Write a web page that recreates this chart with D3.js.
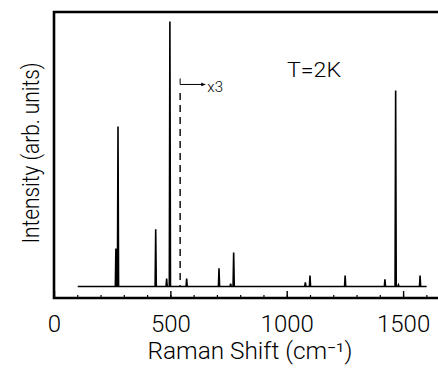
<!DOCTYPE html>
<html>
<head>
<meta charset="utf-8">
<script src="https://cdn.jsdelivr.net/npm/d3@7"></script>
<style>
  body { margin: 0; background: #fff; }
  text { font-family: Roboto, "Open Sans", "DejaVu Sans", sans-serif; font-weight: 300; fill: #000; }
</style>
</head>
<body>
<div id="chart"></div>
<script>
// Raman peaks (position in cm-1, height in arb. units above baseline)
const peakPos    = [266, 275, 437, 484, 498, 570, 709, 759, 772, 1080, 1100, 1251, 1422, 1468, 1480, 1573];
const peakHeight = [13.8, 58.3, 20.8, 2.9, 96.5, 2.9, 6.6, 1.0, 12.4, 1.5, 4.0, 4.0, 2.6, 71.4, 0.6, 4.0];
const specStart = 102, specEnd = 1601;
const majorTicks = [0, 500, 1000, 1500];
const minorTicks = d3.range(100, 1700, 100);
const scaleMark = 542;  // position of the dashed "x3" marker

const width = 438, height = 368;
const svg = d3.select('#chart').append('svg')
    .attr('width', width)
    .attr('height', height);

// x: 0 at the left frame edge, frame runs off the right side of the picture
const x = d3.scaleLinear().domain([0, 1650]).range([54, 438]);
const y = d3.scaleLinear().domain([-4.2, 100]).range([298, 12]);

// build stick spectrum: baseline, then up/down for each peak
const pts = [[specStart, 0]];
peakPos.forEach((p, i) => {
    pts.push([p - 2.5, 0], [p, peakHeight[i]], [p + 2.5, 0]);
});
pts.push([specEnd, 0]);

const line = d3.line().x(d => x(d[0])).y(d => y(d[1]));

svg.append('path')
    .datum(pts)
    .attr('d', line)
    .style('fill', 'none')
    .style('stroke', '#000')
    .style('stroke-width', 1.6)
    .style('stroke-linejoin', 'miter');

// minor ticks
svg.append('g')
    .attr('transform', 'translate(0,' + y(-4.2) + ')')
    .call(d3.axisBottom(x).tickValues(minorTicks).tickSize(-3).tickFormat(''))
    .call(g => g.select('.domain').remove())
    .call(g => g.selectAll('line').attr('stroke-width', 1.2));

// major ticks and labels
svg.append('g')
    .attr('transform', 'translate(0,' + y(-4.2) + ')')
    .call(d3.axisBottom(x).tickValues(majorTicks).tickSize(-7).tickPadding(17).tickFormat(d3.format('d')))
    .call(g => g.select('.domain').remove())
    .call(g => g.selectAll('line').attr('stroke-width', 1.4))
    .call(g => g.selectAll('text')
        .attr('font-size', 24)
        .attr('font-family', 'Roboto, "Open Sans", "DejaVu Sans", sans-serif')
        .attr('font-weight', 300));

// frame (right side falls outside the picture)
svg.append('path')
    .attr('d', 'M' + (x(1650) + 5) + ',' + y(100) + 'H' + x(0) + 'V' + y(-4.2) + 'H' + (x(1650) + 5))
    .style('fill', 'none')
    .style('stroke', '#000')
    .style('stroke-width', 2.6);

// dashed scale marker and arrow
svg.append('line')
    .attr('x1', x(scaleMark)).attr('x2', x(scaleMark))
    .attr('y1', y(70.5)).attr('y2', y(0))
    .style('stroke', '#000')
    .style('stroke-width', 1.4)
    .style('stroke-dasharray', '7,5');

svg.append('defs').append('marker')
    .attr('id', 'arr')
    .attr('viewBox', '0 0 10 10')
    .attr('refX', 10).attr('refY', 5)
    .attr('markerWidth', 5).attr('markerHeight', 4)
    .attr('orient', 'auto')
    .append('path')
    .attr('d', 'M0,0L10,5L0,10Z')
    .attr('fill', '#000');

svg.append('path')
    .attr('d', 'M' + x(scaleMark) + ',' + y(75.8) + 'V' + y(73.6) + 'H' + x(scaleMark + 108))
    .style('fill', 'none')
    .style('stroke', '#000')
    .style('stroke-width', 1)
    .attr('marker-end', 'url(#arr)');

svg.append('text')
    .attr('x', x(scaleMark + 117))
    .attr('y', y(72.7))
    .attr('dy', '0.35em')
    .attr('font-size', 15)
    .text('x3');

svg.append('text')
    .attr('x', 287)
    .attr('y', 77)
    .attr('font-size', 21)
    .attr('textLength', 54)
    .attr('lengthAdjust', 'spacingAndGlyphs')
    .text('T=2K');

// axis titles
svg.append('text')
    .attr('x', 250)
    .attr('y', 359)
    .attr('text-anchor', 'middle')
    .attr('font-size', 23)
    .attr('textLength', 205)
    .attr('lengthAdjust', 'spacingAndGlyphs')
    .text('Raman Shift (cm\u207B\u00B9)');

svg.append('text')
    .attr('transform', 'translate(39,153) rotate(-90)')
    .attr('text-anchor', 'middle')
    .attr('font-size', 24)
    .attr('textLength', 181)
    .attr('lengthAdjust', 'spacingAndGlyphs')
    .text('Intensity (arb. units)');
</script>
</body>
</html>
